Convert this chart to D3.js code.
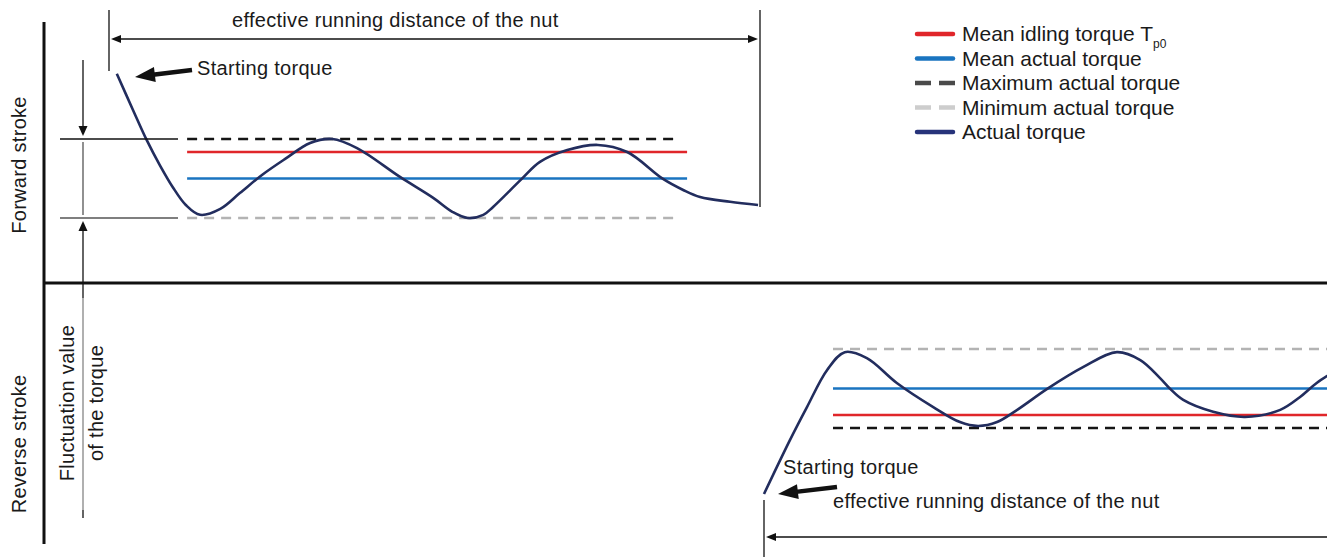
<!DOCTYPE html>
<html>
<head>
<meta charset="utf-8">
<script src="https://cdn.jsdelivr.net/npm/d3@7"></script>
<style>
  body { margin: 0; background: #fff; }
  text { font-family: "Liberation Sans", Arial, sans-serif; fill: #1a1a1a; }
  .lbl { font-size: 20px; letter-spacing: 0.3px; }
</style>
</head>
<body>
<div id="chart"></div>
<script>
// stroke labels and legend names
const strokeLabels = ["Forward stroke", "Reverse stroke"];
const legendNames = ["Mean idling torque T", "Mean actual torque", "Maximum actual torque", "Minimum actual torque", "Actual torque"];

// torque levels (Nm, magnitude): idling mean, actual mean, max, min
const levelValues = [4.67, 4.0, 5.0, 3.0];

// forward stroke: distance in % of running distance, torque in Nm
const fwdDistance = [1.2, 3.7, 5.8, 7.8, 9.8, 11.8, 14.0, 17.1, 20.1, 23.5, 27.0, 30.9, 34.3, 38.1,
  44.7, 49.8, 52.8, 55.1, 57.5, 59.0, 63.4, 66.2, 70.4, 75.1, 79.6, 85.1, 88.2, 90.8, 95.4, 99.7];
const fwdTorque = [6.65, 5.73, 4.97, 4.34, 3.78, 3.33, 3.08, 3.23, 3.63, 4.09, 4.49, 4.90, 5.00, 4.77,
  4.04, 3.51, 3.15, 3.00, 3.08, 3.28, 3.99, 4.42, 4.72, 4.85, 4.67, 3.99, 3.71, 3.53, 3.41, 3.33];
const fwdLevelSpan = [12.0, 88.8];

// reverse stroke (torque magnitude)
const revDistance = [0, 4.0, 6.6, 9.7, 12.4, 15.8, 20.4, 26.0, 30.1, 32.9, 35.8, 38.9, 43.5, 49.0,
  54.2, 57.8, 60.8, 62.4, 64.4, 69.0, 73.9, 79.3, 82.3, 84.9, 89.2];
const revTorque = [6.67, 5.30, 4.47, 3.53, 3.08, 3.23, 3.86, 4.47, 4.85, 4.95, 4.85, 4.54, 4.01, 3.46,
  3.08, 3.28, 3.73, 4.01, 4.29, 4.59, 4.72, 4.54, 4.22, 3.86, 3.41];
const revLevelSpan = [10.6, 100];

const W = 1327, H = 557;
const colors = { idle: "#e0262a", mean: "#1a74c0", max: "#151515", min: "#b3b3b3", actual: "#222d5e" };
const legendColors = [colors.idle, colors.mean, "#4a4a4a", "#cdcdcd", "#27337a"];

const svg = d3.select("#chart").append("svg")
  .attr("width", W).attr("height", H);

// scales
const xFwd = d3.scaleLinear().domain([0, 100]).range([109, 760]);
const xRev = d3.scaleLinear().domain([0, 100]).range([764, 1415]);
const yFwd = d3.scaleLinear().domain([3, 5]).range([218, 139]);
const yRev = d3.scaleLinear().domain([3, 5]).range([349, 428]);

function arrowHead(g, tipX, tipY, angle, len, half, fill) {
  const a = angle * Math.PI / 180;
  const bx = tipX - len * Math.cos(a), by = tipY - len * Math.sin(a);
  const px = -Math.sin(a) * half, py = Math.cos(a) * half;
  g.append("path")
    .attr("d", `M${tipX},${tipY}L${bx + px},${by + py}L${bx - px},${by - py}Z`)
    .attr("fill", fill || "#111");
}

function thickArrow(g, x1, y1, x2, y2) {
  const ang = Math.atan2(y2 - y1, x2 - x1);
  const len = 20;
  g.append("line")
    .attr("x1", x1).attr("y1", y1)
    .attr("x2", x2 - (len - 2) * Math.cos(ang)).attr("y2", y2 - (len - 2) * Math.sin(ang))
    .attr("stroke", "#111").attr("stroke-width", 4.5);
  arrowHead(g, x2, y2, ang * 180 / Math.PI, len, 7.5);
}

// axes frame
svg.append("line").attr("x1", 44).attr("x2", 44).attr("y1", 22).attr("y2", 544)
  .attr("stroke", "#111").attr("stroke-width", 3);
svg.append("line").attr("x1", 44).attr("x2", W).attr("y1", 283).attr("y2", 283)
  .attr("stroke", "#111").attr("stroke-width", 3);

// stroke labels
[165, 444].forEach((cy, i) => {
  svg.append("text").attr("class", "lbl")
    .attr("transform", `translate(19,${cy}) rotate(-90)`)
    .attr("text-anchor", "middle").attr("dy", "0.35em")
    .text(strokeLabels[i]);
});

// level lines
function drawLevels(g, x, y, span, dashEnd) {
  const [idle, mean, max, min] = levelValues;
  [[max, colors.max], [min, colors.min]].forEach(([v, c]) => {
    g.append("line")
      .attr("x1", x(span[0])).attr("x2", x(dashEnd))
      .attr("y1", y(v)).attr("y2", y(v))
      .attr("stroke", c).attr("stroke-width", 2.6)
      .attr("stroke-dasharray", "10,7");
  });
  [[idle, colors.idle], [mean, colors.mean]].forEach(([v, c]) => {
    g.append("line")
      .attr("x1", x(span[0])).attr("x2", x(span[1]))
      .attr("y1", y(v)).attr("y2", y(v))
      .attr("stroke", c).attr("stroke-width", 2.6);
  });
}

const topG = svg.append("g");
const botG = svg.append("g");
drawLevels(topG, xFwd, yFwd, fwdLevelSpan, 87.4);
drawLevels(botG, xRev, yRev, revLevelSpan, 100);

// actual torque curves
const fwdData = fwdDistance.map((d, i) => [d, fwdTorque[i]]);
const revData = revDistance.map((d, i) => [d, revTorque[i]]);

topG.append("path")
  .datum(fwdData)
  .attr("d", d3.line().x(d => xFwd(d[0])).y(d => yFwd(d[1])).curve(d3.curveCatmullRom.alpha(0.5)))
  .attr("fill", "none").attr("stroke", colors.actual).attr("stroke-width", 2.6);

botG.append("path")
  .datum(revData)
  .attr("d", d3.line().x(d => xRev(d[0])).y(d => yRev(d[1])).curve(d3.curveCatmullRom.alpha(0.5)))
  .attr("fill", "none").attr("stroke", colors.actual).attr("stroke-width", 2.6);

// running distance, forward
const fx0 = xFwd(0), fx1 = xFwd(100);
topG.append("line").attr("x1", fx0).attr("x2", fx0).attr("y1", 10).attr("y2", 71)
  .attr("stroke", "#111").attr("stroke-width", 1.3);
topG.append("line").attr("x1", fx1).attr("x2", fx1).attr("y1", 10).attr("y2", 207)
  .attr("stroke", "#111").attr("stroke-width", 1.3);
topG.append("line").attr("x1", fx0 + 6).attr("x2", fx1 - 6).attr("y1", 39).attr("y2", 39)
  .attr("stroke", "#111").attr("stroke-width", 1.3);
arrowHead(topG, fx0 + 2, 39, 180, 10, 4);
arrowHead(topG, fx1 - 2, 39, 0, 10, 4);
topG.append("text").attr("class", "lbl").attr("x", 232).attr("y", 27)
  .text("effective running distance of the nut");

// starting torque, forward
thickArrow(topG, 192, 70, 135, 77);
topG.append("text").attr("class", "lbl").attr("x", 197).attr("y", 75).text("Starting torque");

// running distance, reverse
const rx0 = xRev(0);
botG.append("line").attr("x1", rx0).attr("x2", rx0).attr("y1", 500).attr("y2", H)
  .attr("stroke", "#111").attr("stroke-width", 1.3);
botG.append("line").attr("x1", rx0 + 6).attr("x2", W).attr("y1", 537).attr("y2", 537)
  .attr("stroke", "#111").attr("stroke-width", 1.3);
arrowHead(botG, rx0 + 2, 537, 180, 10, 4);
thickArrow(botG, 837, 487, 778, 494);
botG.append("text").attr("class", "lbl").attr("x", 783).attr("y", 474).text("Starting torque");
botG.append("text").attr("class", "lbl").attr("x", 833).attr("y", 508)
  .text("effective running distance of the nut");

// fluctuation bracket
const yMax = yFwd(levelValues[2]), yMin = yFwd(levelValues[3]);
const bx = 83;
svg.append("line").attr("x1", 60).attr("x2", 178).attr("y1", yMax).attr("y2", yMax)
  .attr("stroke", "#111").attr("stroke-width", 1.3);
svg.append("line").attr("x1", 60).attr("x2", 178).attr("y1", yMin).attr("y2", yMin)
  .attr("stroke", "#555").attr("stroke-width", 1.3);
svg.append("line").attr("x1", bx).attr("x2", bx).attr("y1", 60).attr("y2", yMax - 8)
  .attr("stroke", "#111").attr("stroke-width", 1.3);
arrowHead(svg, bx, yMax - 3, 90, 10, 4.5);
svg.append("line").attr("x1", bx).attr("x2", bx).attr("y1", yMax + 3).attr("y2", yMin - 3)
  .attr("stroke", "#555").attr("stroke-width", 1.3);
arrowHead(svg, bx, yMin + 3, -90, 10, 4.5);
svg.append("line").attr("x1", bx).attr("x2", bx).attr("y1", yMin + 8).attr("y2", 518)
  .attr("stroke", "#111").attr("stroke-width", 1.3);
svg.append("line").attr("x1", bx).attr("x2", bx).attr("y1", 298).attr("y2", 510)
  .attr("stroke", "#c4c4c4").attr("stroke-width", 1.6);
svg.append("text").attr("class", "lbl")
  .attr("transform", "translate(67,403) rotate(-90)")
  .attr("text-anchor", "middle").attr("dy", "0.35em")
  .text("Fluctuation value");
svg.append("text").attr("class", "lbl")
  .attr("transform", "translate(96,403) rotate(-90)")
  .attr("text-anchor", "middle").attr("dy", "0.35em")
  .text("of the torque");

// legend
const legend = svg.append("g").attr("transform", "translate(915,34)");
legendNames.forEach((name, i) => {
  const row = legend.append("g").attr("transform", `translate(0,${i * 24.5})`);
  const dashed = i === 2 || i === 3;
  row.append("line")
    .attr("x1", dashed ? 0 : 2).attr("x2", dashed ? 40 : 38)
    .attr("stroke", legendColors[i]).attr("stroke-width", 4.5)
    .attr("stroke-linecap", dashed ? "butt" : "round")
    .attr("stroke-dasharray", dashed ? "16,8" : null);
  const t = row.append("text").attr("x", 47).attr("dy", "0.35em").style("font-size", "21px").text(name);
  if (i === 0) {
    t.append("tspan").attr("dy", "7").style("font-size", "12px").text("p0");
  }
});
</script>
</body>
</html>
